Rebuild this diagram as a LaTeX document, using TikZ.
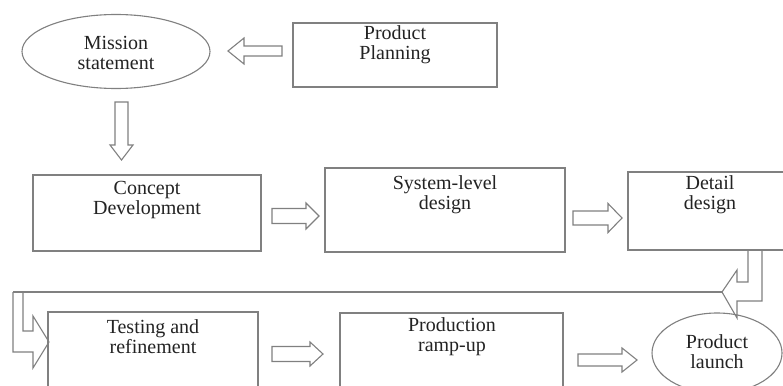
\documentclass[tikz,border=0pt]{standalone}
\usepackage{fontspec}
\setmainfont{Liberation Serif}
\definecolor{edge}{RGB}{128,128,128}
\definecolor{ink}{RGB}{35,35,35}
\tikzset{
  stepbox/.style={draw=edge, line width=1.1pt, rectangle, inner sep=0pt},
  stepoval/.style={draw=edge, line width=1.1pt, ellipse, inner sep=0pt},
  label text/.style={text=ink, font=\fontsize{20}{20}\selectfont, align=center, inner sep=0pt},
  outline/.style={draw=edge, line width=1.1pt, line join=miter},
  pics/blockarrow/.style args={#1/#2/#3/#4}{code={
    \draw[outline] (0,-#2) -- (#1-#4,-#2) -- (#1-#4,-#3) -- (#1,0)
      -- (#1-#4,#3) -- (#1-#4,#2) -- (0,#2) -- cycle;}}
}
\usetikzlibrary{shapes.geometric}
\begin{document}
\begin{tikzpicture}[x=1pt,y=-1pt]
\useasboundingbox (0,0) rectangle (783,385);
\fill[white] (0,0) rectangle (783,385);
\clip (0,0) rectangle (783,385);

% top row
\node[stepoval, minimum width=188pt, minimum height=74pt] (mission) at (116,51.5) {};
\node[label text] (missiont) at (116,53) {Mission\\statement};
\node[stepbox, minimum width=204pt, minimum height=64pt] (planning) at (395,55) {};
\node[label text] (planningt) at (395,45) {Product\\Planning};

% middle row
\node[stepbox, minimum width=228pt, minimum height=76pt] (concept) at (147,213) {};
\node[label text] (conceptt) at (147,200) {Concept\\Development};
\node[stepbox, minimum width=240pt, minimum height=84pt] (system) at (445,210) {};
\node[label text] (systemt) at (445,195) {System-level\\design};
\node[stepbox, minimum width=166pt, minimum height=78pt] (detail) at (711,211) {};
\node[label text] (detailt) at (710,195) {Detail\\design};

% bottom row
\node[stepbox, minimum width=210pt, minimum height=90pt] (testing) at (153,357) {};
\node[label text] (testingt) at (153,337) {Testing and\\refinement};
\node[stepbox, minimum width=223pt, minimum height=90pt] (production) at (451.5,358) {};
\node[label text] (productiont) at (452,337) {Production\\ramp-up};
\node[stepoval, minimum width=130pt, minimum height=80pt] (launch) at (717,353) {};
\node[label text] (launcht) at (717,352) {Product\\launch};

% straight block arrows
\pic[rotate=180] (a1) at (282,51) {blockarrow=54/5/13/16};
\pic[rotate=-90] (a2) at (121.5,102) {blockarrow=58/6.5/11.5/15};
\pic (a3) at (272,216) {blockarrow=47/7.5/13/13};
\pic (a4) at (573,218) {blockarrow=49/7/14.5/14};
\pic (a5) at (272,354) {blockarrow=51/7.5/12/13};
\pic (a6) at (578,360) {blockarrow=59/6/12/15};

% bent arrow leaving the detail design box
\coordinate (bendtip) at (722,292);
\draw[outline] (748,250) -- (748,282) -- (737,282) -- (737,270) -- (bendtip)
  -- (737,318) -- (737,301) -- (762,301) -- (762,250);
% return line to the left edge
\coordinate (leftcorner) at (13,292);
\draw[outline] (bendtip) -- (leftcorner);
% bent arrow entering the testing box
\draw[outline] (leftcorner) -- (13,352) -- (33,352) -- (33,368) -- (49,342)
  -- (33,316) -- (33,331) -- (23,331) -- (23,292);
\end{tikzpicture}
\end{document}
